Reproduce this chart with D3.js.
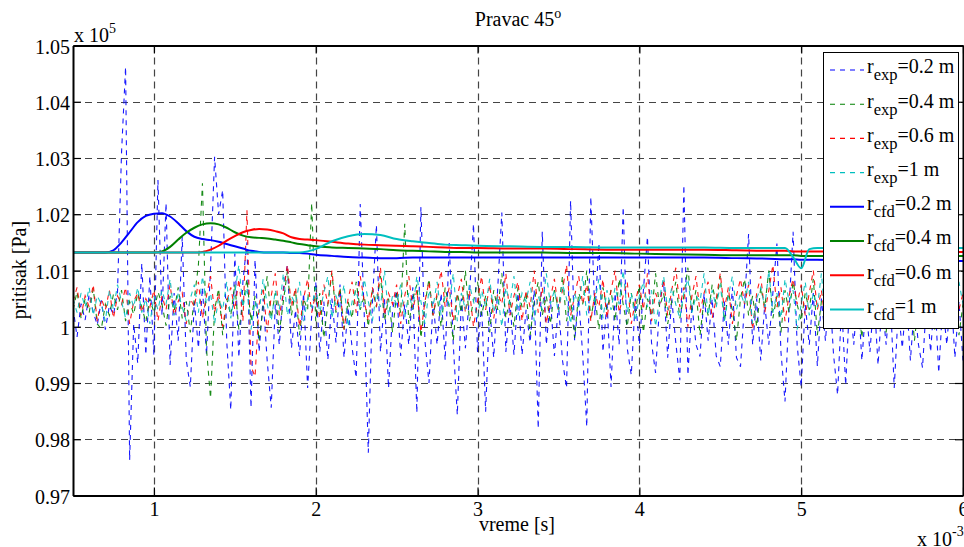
<!DOCTYPE html>
<html><head><meta charset="utf-8">
<script src="https://cdn.jsdelivr.net/npm/d3@7"></script>
<style>
html,body{margin:0;padding:0;background:#fff;}
svg{display:block;}
text{font-family:"Liberation Serif","Times New Roman",serif;fill:#000;}
</style></head>
<body>
<svg id="chart" width="964" height="547"></svg>
<script>
// ---------------- DATA ----------------
const titleText = "Pravac 45";
const xTicks = [1, 2, 3, 4, 5, 6];
const xTickLabels = ["1", "2", "3", "4", "5", "6"];
const yTicks = [0.97, 0.98, 0.99, 1.00, 1.01, 1.02, 1.03, 1.04, 1.05];
const yTickLabels = ["0.97", "0.98", "0.99", "1", "1.01", "1.02", "1.03", "1.04", "1.05"];

// experimental samples: start time and sampling step (x 10^-3 s)
const expStart = 0.5;
const expStep = 0.025;

const expBlue = [
1.0035,0.9982,1.0041,1.0012,1.0058,1.0026,1.0003,1.0047,0.9995,1.0038,
1.0021,1.0062,1.0310,1.0462,0.9763,1.0005,0.9935,1.0113,0.9950,1.0090,
0.9950,1.0261,1.0020,1.0220,0.9932,1.0060,0.9975,1.0160,0.9941,0.9893,
1.0045,0.9962,1.0070,0.9950,1.0105,1.0302,1.0200,1.0243,0.9975,0.9852,
1.0130,0.9945,1.0080,1.0150,0.9856,1.0119,0.9955,1.0050,0.9940,0.9856,
1.0040,0.9968,1.0068,1.0110,0.9962,1.0030,0.9948,1.0060,0.9891,1.0020,
1.0080,0.9955,1.0045,0.9941,1.0050,0.9972,1.0075,0.9945,1.0035,0.9962,
0.9909,1.0218,1.0020,0.9776,1.0040,1.0181,0.9955,1.0050,0.9891,1.0030,
1.0065,0.9948,1.0040,0.9968,1.0070,0.9847,1.0213,0.9975,0.9900,1.0045,
0.9968,1.0060,0.9940,1.0149,0.9968,0.9843,1.0050,0.9962,1.0055,1.0183,
0.9955,1.0040,0.9849,1.0035,0.9945,1.0070,1.0203,0.9955,1.0045,0.9950,
1.0060,0.9950,1.0030,0.9972,1.0065,0.9819,1.0169,0.9968,1.0050,0.9948,
1.0040,0.9940,0.9891,1.0224,0.9975,1.0050,0.9950,0.9822,1.0231,1.0020,
1.0149,0.9955,1.0045,0.9893,1.0060,0.9968,1.0213,0.9962,0.9914,1.0050,
0.9968,1.0065,1.0160,0.9972,0.9918,1.0040,1.0080,0.9945,1.0050,0.9972,
0.9905,1.0252,0.9914,1.0040,0.9968,0.9947,1.0060,0.9975,1.0050,0.9948,
0.9929,1.0045,0.9968,1.0070,0.9945,0.9929,1.0040,1.0165,0.9968,1.0050,
0.9940,1.0040,0.9968,1.0060,1.0148,0.9955,0.9867,1.0030,1.0169,0.9968,
0.9893,1.0040,0.9968,1.0060,0.9930,1.0050,0.9975,1.0070,0.9950,0.9879,
1.0040,0.9896,1.0050,0.9968,1.0065,0.9940,1.0040,0.9955,1.0055,0.9932,
1.0045,0.9968,1.0060,0.9891,1.0030,0.9962,1.0055,0.9940,1.0040,0.9968,
0.9927,1.0050,0.9955,1.0060,0.9918,1.0040,0.9968,1.0065,0.9945,1.0045,0.9940];

const expGreen = [
1.0030,1.0062,1.0015,1.0050,1.0025,1.0068,1.0005,0.9996,1.0040,1.0020,
1.0058,1.0030,1.0065,1.0010,1.0045,1.0022,1.0060,1.0035,1.0008,1.0050,
1.0025,1.0062,1.0040,1.0002,1.0055,1.0028,1.0070,1.0015,1.0045,0.9990,
1.0050,1.0110,1.0255,0.9960,0.9873,1.0030,1.0068,0.9985,1.0050,1.0020,
1.0075,0.9995,1.0040,1.0085,1.0010,1.0055,0.9975,1.0035,1.0090,1.0015,
1.0060,0.9990,1.0045,1.0100,1.0020,1.0065,0.9985,1.0050,1.0030,1.0220,
1.0010,1.0060,0.9980,1.0040,1.0095,1.0025,1.0070,0.9995,1.0045,1.0015,
1.0080,1.0030,1.0055,1.0000,1.0065,1.0035,1.0090,1.0010,1.0050,0.9990,
1.0060,1.0025,1.0183,1.0005,1.0050,1.0075,0.9980,1.0040,1.0085,1.0020,
1.0055,1.0000,1.0070,1.0035,0.9975,1.0060,1.0025,1.0100,1.0010,1.0045,
1.0080,1.0020,1.0055,0.9990,1.0065,1.0030,1.0095,1.0015,1.0050,1.0000,
1.0070,1.0035,1.0060,0.9985,1.0045,1.0080,1.0020,1.0055,1.0005,1.0065,
1.0030,1.0090,1.0010,1.0050,0.9980,1.0060,1.0040,1.0100,1.0015,1.0055,
0.9995,1.0070,1.0030,1.0065,1.0010,1.0085,1.0040,1.0000,1.0060,1.0025,
1.0075,0.9990,1.0050,1.0020,1.0095,1.0035,1.0060,1.0005,1.0045,1.0080,
1.0015,1.0055,1.0105,1.0030,1.0065,0.9985,1.0050,1.0020,1.0075,1.0040,
1.0090,1.0010,1.0060,1.0030,0.9975,1.0050,1.0085,1.0020,1.0055,1.0000,
1.0070,1.0035,1.0100,1.0015,1.0055,0.9990,1.0065,1.0025,1.0080,1.0040,
1.0010,1.0060,1.0030,1.0085,0.9985,1.0045,1.0070,1.0020,1.0055,1.0005,
1.0075,1.0030,1.0095,1.0010,1.0050,0.9980,1.0065,1.0035,1.0090,1.0020,
1.0055,0.9990,1.0070,1.0040,1.0010,1.0080,1.0025,1.0060,0.9975,1.0045,
1.0085,1.0015,1.0065,0.9995,1.0050,1.0030,1.0075,1.0005,1.0060,0.9985,1.0040];

const expRed = [
1.0045,1.0070,1.0020,1.0055,1.0035,1.0075,1.0010,1.0050,1.0030,1.0065,
1.0015,1.0055,1.0040,1.0070,1.0005,1.0045,1.0060,1.0025,1.0050,1.0035,
1.0065,1.0010,1.0055,1.0030,1.0075,1.0020,1.0045,1.0060,1.0005,1.0050,
1.0035,1.0080,1.0015,1.0055,1.0090,1.0025,1.0060,1.0000,1.0045,1.0070,
1.0030,1.0085,1.0010,1.0207,0.9930,0.9911,1.0040,1.0070,0.9990,1.0055,
1.0095,1.0020,1.0060,1.0110,1.0035,1.0070,1.0000,1.0050,1.0085,1.0025,
1.0060,1.0015,1.0075,1.0040,1.0100,1.0030,1.0065,0.9995,1.0050,1.0080,
1.0025,1.0090,1.0045,1.0010,1.0070,1.0035,1.0105,1.0020,1.0060,1.0040,
1.0075,1.0005,1.0055,1.0090,1.0030,1.0065,0.9990,1.0045,1.0080,1.0020,
1.0060,1.0100,1.0035,1.0070,1.0010,1.0055,1.0085,1.0025,1.0065,1.0000,
1.0045,1.0090,1.0030,1.0075,1.0015,1.0060,1.0040,1.0095,1.0020,1.0055,
1.0080,1.0010,1.0065,1.0035,1.0100,1.0025,1.0070,1.0005,1.0050,1.0085,
1.0030,1.0065,1.0110,1.0020,1.0055,1.0090,1.0040,1.0075,1.0010,1.0060,
1.0035,1.0085,1.0015,1.0065,1.0100,1.0025,1.0055,1.0080,1.0005,1.0045,
1.0075,1.0030,1.0095,1.0010,1.0060,1.0040,1.0085,1.0020,1.0065,1.0105,
1.0035,1.0070,1.0000,1.0055,1.0090,1.0025,1.0060,1.0080,1.0015,1.0050,
1.0095,1.0030,1.0070,1.0005,1.0055,1.0085,1.0040,1.0075,0.9995,1.0060,
1.0090,1.0025,1.0065,1.0110,1.0035,1.0070,1.0010,1.0055,1.0085,1.0040,
1.0075,1.0020,1.0060,1.0100,1.0030,1.0065,1.0005,1.0050,1.0090,1.0035,
1.0070,1.0015,1.0055,1.0085,1.0040,1.0075,1.0000,1.0060,1.0095,1.0025,
1.0065,1.0035,1.0080,1.0010,1.0055,1.0090,1.0030,1.0070,1.0005,1.0050,
1.0085,1.0020,1.0065,1.0100,1.0040,1.0075,1.0010,1.0055,1.0080,1.0030,1.0060];

const expCyan = [
1.0050,1.0025,1.0060,1.0035,1.0070,1.0020,1.0055,1.0040,1.0010,1.0065,
1.0030,1.0075,1.0045,1.0015,1.0060,1.0035,1.0070,1.0025,1.0050,1.0005,
1.0055,1.0030,1.0065,1.0040,1.0085,1.0020,1.0060,1.0035,1.0010,1.0050,
1.0075,1.0025,1.0090,1.0040,1.0060,1.0005,1.0050,1.0030,1.0080,1.0015,
1.0060,1.0110,1.0035,1.0070,0.9995,1.0045,1.0025,1.0085,1.0040,1.0010,
1.0065,1.0030,1.0095,1.0020,1.0055,1.0040,1.0080,1.0010,1.0050,1.0035,
1.0070,1.0025,1.0060,1.0090,1.0015,1.0055,1.0035,1.0075,1.0000,1.0045,
1.0065,1.0030,1.0085,1.0045,1.0010,1.0060,1.0035,1.0100,1.0020,1.0055,
1.0040,1.0075,1.0015,1.0060,1.0030,1.0090,1.0045,1.0005,1.0065,1.0035,
1.0080,1.0020,1.0055,1.0040,1.0095,1.0010,1.0060,1.0030,1.0075,1.0045,
1.0015,1.0065,1.0035,1.0085,1.0025,1.0055,1.0000,1.0070,1.0040,1.0090,
1.0020,1.0060,1.0045,1.0080,1.0010,1.0055,1.0030,1.0095,1.0040,1.0065,
1.0025,1.0075,1.0050,1.0005,1.0060,1.0035,1.0090,1.0020,1.0055,1.0045,
1.0085,1.0015,1.0065,1.0030,1.0070,1.0040,1.0100,1.0025,1.0060,1.0010,
1.0055,1.0080,1.0035,1.0065,1.0000,1.0050,1.0090,1.0030,1.0070,1.0040,
1.0015,1.0060,1.0085,1.0025,1.0055,1.0045,1.0095,1.0020,1.0065,1.0035,
1.0075,1.0010,1.0055,1.0090,1.0030,1.0060,1.0040,1.0080,1.0005,1.0050,
1.0070,1.0035,1.0100,1.0025,1.0060,1.0015,1.0085,1.0045,1.0065,0.9995,
1.0040,1.0080,1.0020,1.0060,1.0035,1.0095,1.0010,1.0055,1.0075,1.0030,
1.0065,1.0045,1.0090,1.0015,1.0060,1.0035,1.0080,1.0025,1.0055,1.0100,
1.0030,1.0070,1.0045,1.0010,1.0065,1.0040,1.0085,1.0020,1.0060,1.0035,
1.0075,1.0050,1.0015,1.0070,1.0030,1.0090,1.0045,1.0060,1.0025,1.0080,1.0040];

// CFD results (x 10^-3 s, x 10^5 Pa)
const cfdTime = [0.5,0.7,0.75,0.8,0.85,0.9,0.95,1.0,1.05,1.1,1.15,1.2,1.25,1.3,1.35,1.4,1.45,1.5,1.55,1.6,
  1.65,1.7,1.75,1.8,1.85,1.9,1.95,2.0,2.1,2.2,2.3,2.4,2.5,2.6,2.7,2.8,2.9,3.0,3.2,3.4,
  3.6,3.8,4.0,4.2,4.4,4.6,4.8,4.9,4.95,5.0,5.05,5.1,5.3,5.5,5.7,6.0];
const cfdBlue = [1.0132,1.0132,1.0136,1.0150,1.0168,1.0186,1.0197,1.0201,1.0202,1.0196,1.0184,1.0170,1.0160,1.0156,1.0154,1.0151,1.0147,1.0143,1.0139,1.0135,
  1.0133,1.0132,1.0132,1.0132,1.0131,1.0131,1.0130,1.0128,1.0126,1.0124,1.0123,1.0122,1.0122,1.0123,1.0123,1.0123,1.0123,1.0123,1.0123,1.0123,
  1.0123,1.0123,1.0123,1.0123,1.0123,1.0122,1.0121,1.0120,1.0120,1.0119,1.0119,1.0119,1.0118,1.0118,1.0117,1.0117];
const cfdGreen = [1.0132,1.0132,1.0132,1.0132,1.0132,1.0132,1.0132,1.0132,1.0134,1.0142,1.0155,1.0167,1.0176,1.0182,1.0184,1.0182,1.0176,1.0168,1.0162,1.0159,
  1.0158,1.0157,1.0155,1.0153,1.0150,1.0147,1.0145,1.0143,1.0141,1.0140,1.0139,1.0138,1.0136,1.0135,1.0134,1.0133,1.0133,1.0132,1.0132,1.0132,
  1.0131,1.0131,1.0130,1.0129,1.0128,1.0127,1.0127,1.0127,1.0127,1.0126,1.0126,1.0126,1.0126,1.0126,1.0126,1.0126];
const cfdRed = [1.0132,1.0132,1.0132,1.0132,1.0132,1.0132,1.0132,1.0132,1.0132,1.0132,1.0132,1.0132,1.0132,1.0133,1.0137,1.0144,1.0153,1.0161,1.0168,1.0172,
  1.0174,1.0173,1.0170,1.0166,1.0159,1.0156,1.0155,1.0154,1.0151,1.0148,1.0146,1.0145,1.0144,1.0143,1.0142,1.0141,1.0140,1.0140,1.0139,1.0139,
  1.0138,1.0137,1.0137,1.0137,1.0137,1.0136,1.0135,1.0135,1.0134,1.0134,1.0134,1.0134,1.0134,1.0133,1.0133,1.0133];
const cfdCyan = [1.0132,1.0132,1.0132,1.0132,1.0132,1.0132,1.0132,1.0132,1.0132,1.0132,1.0132,1.0132,1.0132,1.0132,1.0132,1.0132,1.0132,1.0132,1.0132,1.0132,
  1.0132,1.0132,1.0132,1.0132,1.0132,1.0132,1.0134,1.0138,1.0152,1.0161,1.0165,1.0163,1.0156,1.0152,1.0149,1.0146,1.0145,1.0144,1.0143,1.0142,
  1.0142,1.0141,1.0141,1.0141,1.0141,1.0140,1.0140,1.0140,1.0124,1.0104,1.0138,1.0140,1.0140,1.0140,1.0140,1.0140];

const legendLabels = [
  ["r", "exp", "=0.2 m"], ["r", "exp", "=0.4 m"], ["r", "exp", "=0.6 m"], ["r", "exp", "=1 m"],
  ["r", "cfd", "=0.2 m"], ["r", "cfd", "=0.4 m"], ["r", "cfd", "=0.6 m"], ["r", "cfd", "=1 m"]
];

// ---------------- LAYOUT ----------------
const svg = d3.select("#chart");
const L = 73, R = 963, T = 45.5, B = 495.5;
const x = d3.scaleLinear().domain([0.5, 6]).range([L, R]);
const y = d3.scaleLinear().domain([0.97, 1.05]).range([B, T]);
const FONT = 20;

const colors = {blue: "#0000ff", green: "#008000", red: "#ff0000", cyan: "#00bfbf"};

// clip
svg.append("defs").append("clipPath").attr("id", "clip")
  .append("rect").attr("x", L).attr("y", T).attr("width", R - L).attr("height", B - T);

// grid
const grid = svg.append("g");
grid.selectAll("line.gx").data(xTicks.filter(d => d < 6)).enter().append("line")
  .attr("x1", d => Math.round(x(d)) + 0.5).attr("x2", d => Math.round(x(d)) + 0.5)
  .attr("y1", T).attr("y2", B)
  .attr("stroke", "#444").attr("stroke-width", 1.2).attr("stroke-dasharray", "7,5");
grid.selectAll("line.gy").data(yTicks.filter(d => d > 0.97 && d < 1.05)).enter().append("line")
  .attr("x1", L).attr("x2", R)
  .attr("y1", d => Math.round(y(d)) + 0.5).attr("y2", d => Math.round(y(d)) + 0.5)
  .attr("stroke", "#444").attr("stroke-width", 1.2).attr("stroke-dasharray", "7,5");

// data
const plot = svg.append("g").attr("clip-path", "url(#clip)");
const expSeries = [
  {v: expBlue, c: colors.blue}, {v: expGreen, c: colors.green},
  {v: expRed, c: colors.red}, {v: expCyan, c: colors.cyan}
];
const expLine = d3.line().x((d, i) => x(expStart + i * expStep)).y(d => y(d));
expSeries.forEach(s => {
  plot.append("path").datum(s.v).attr("d", expLine)
    .attr("fill", "none").attr("stroke", s.c).attr("stroke-width", 1.1)
    .attr("stroke-dasharray", "5,5").attr("stroke-opacity", 0.9);
});
const cfdSeries = [
  {v: cfdBlue, c: colors.blue}, {v: cfdGreen, c: colors.green},
  {v: cfdRed, c: colors.red}, {v: cfdCyan, c: colors.cyan}
];
const cfdLine = d3.line().x((d, i) => x(cfdTime[i])).y(d => y(d)).curve(d3.curveMonotoneX);
cfdSeries.forEach(s => {
  plot.append("path").datum(s.v).attr("d", cfdLine)
    .attr("fill", "none").attr("stroke", s.c).attr("stroke-width", 2);
});

// axes
function styleAxis(g) {
  g.select(".domain").attr("stroke", "#000").attr("stroke-width", 2);
  g.selectAll(".tick line").attr("stroke", "#000").attr("stroke-width", 1.2);
  g.selectAll("text").attr("font-family", '"Liberation Serif","Times New Roman",serif')
    .attr("font-size", FONT).attr("fill", "#000");
}
svg.append("g").attr("transform", `translate(0,${B})`)
  .call(d3.axisBottom(x).tickValues(xTicks).tickFormat((d, i) => xTickLabels[i]).tickSizeInner(-8).tickSizeOuter(0).tickPadding(6))
  .call(styleAxis);
svg.append("g").attr("transform", `translate(0,${T})`)
  .call(d3.axisTop(x).tickValues(xTicks).tickFormat("").tickSizeInner(-8).tickSizeOuter(0))
  .call(styleAxis);
const yAx = svg.append("g").attr("transform", `translate(${L},0)`)
  .call(d3.axisLeft(y).tickValues(yTicks).tickFormat((d, i) => yTickLabels[i]).tickSizeInner(-8).tickSizeOuter(0).tickPadding(3))
  .call(styleAxis);
yAx.selectAll("text").attr("dy", "0.38em");
svg.append("g").attr("transform", `translate(${R},0)`)
  .call(d3.axisRight(y).tickValues(yTicks).tickFormat("").tickSizeInner(-8).tickSizeOuter(0))
  .call(styleAxis);

// title
const title = svg.append("text").attr("x", 518).attr("y", 26).attr("text-anchor", "middle").attr("font-size", FONT);
title.append("tspan").text(titleText);
title.append("tspan").attr("dy", -8).attr("font-size", 14).text("o");

// exponent labels
const e5 = svg.append("text").attr("x", 74).attr("y", 41.5).attr("font-size", FONT);
e5.append("tspan").text("x 10");
e5.append("tspan").attr("dy", -9).attr("font-size", 14).text("5");
const e3 = svg.append("text").attr("x", 917).attr("y", 546).attr("font-size", FONT);
e3.append("tspan").text("x 10");
e3.append("tspan").attr("dy", -10).attr("font-size", 14).text("-3");

// axis labels
svg.append("text").attr("x", 517).attr("y", 531).attr("text-anchor", "middle").attr("font-size", FONT).text("vreme [s]");
svg.append("text").attr("transform", "translate(26,270) rotate(-90)").attr("text-anchor", "middle")
  .attr("font-size", FONT).text("pritisak [Pa]");

// legend
const lg = svg.append("g");
lg.append("rect").attr("x", 823.5).attr("y", 52.5).attr("width", 135).attr("height", 276)
  .attr("fill", "#fff").attr("stroke", "#000").attr("stroke-width", 1);
const legendStyles = [
  {c: colors.blue, dash: true}, {c: colors.green, dash: true}, {c: colors.red, dash: true}, {c: colors.cyan, dash: true},
  {c: colors.blue, dash: false}, {c: colors.green, dash: false}, {c: colors.red, dash: false}, {c: colors.cyan, dash: false}
];
legendLabels.forEach((lab, i) => {
  const ry = 70 + i * 34.2;
  lg.append("line").attr("x1", 830).attr("x2", 864).attr("y1", ry).attr("y2", ry)
    .attr("stroke", legendStyles[i].c).attr("stroke-width", legendStyles[i].dash ? 1.1 : 2)
    .attr("stroke-dasharray", legendStyles[i].dash ? "5,5" : null);
  const t = lg.append("text").attr("x", 867).attr("y", ry + 3.3).attr("font-size", FONT);
  t.append("tspan").text(lab[0]);
  t.append("tspan").attr("dy", 7).attr("font-size", 16.5).text(lab[1]);
  t.append("tspan").attr("dy", -7).attr("font-size", FONT).text(lab[2]);
});
</script>
</body></html>
